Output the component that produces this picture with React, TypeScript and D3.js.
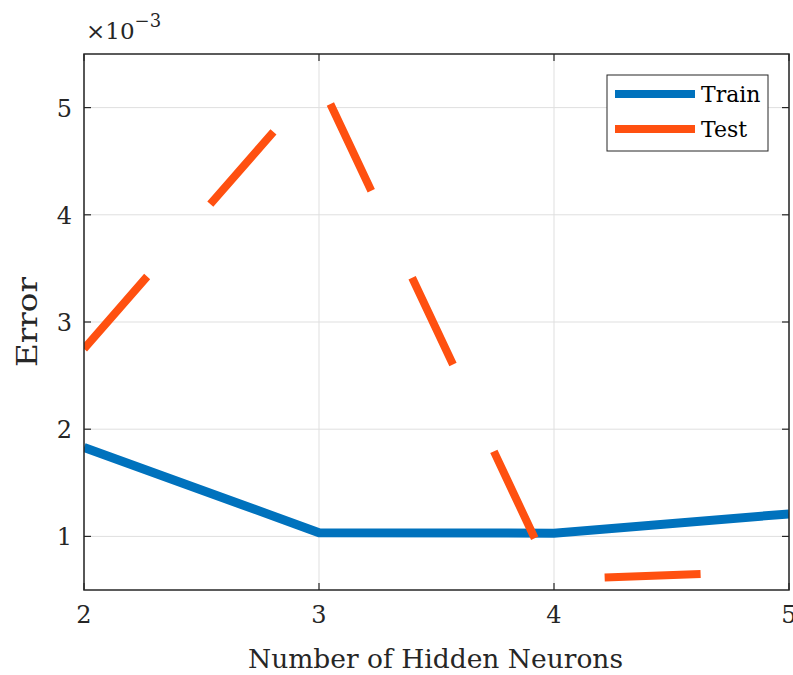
import React from "react";
import * as d3 from "d3";

const neurons = [2, 3, 4, 5];
const trainErr = [1.83, 1.035, 1.03, 1.21];
const testErr = [2.75, 5.26, 0.6, 0.68];
const xTicks = [2, 3, 4, 5];
const yTicks = [1, 2, 3, 4, 5];
const seriesNames = ["Train", "Test"];
const seriesColors = ["#0072BD", "#FF5010"];

const W = 793, H = 675;
const L = 84, R = 789, T = 54, B = 590;
const FONT = "'DejaVu Serif', 'Liberation Serif', serif";

export default function App() {
  const x = d3.scaleLinear().domain([2, 5]).range([L, R]);
  const y = d3.scaleLinear().domain([0.5, 5.5]).range([B, T]);
  const line = d3.line<number>().x((_, i) => x(neurons[i])).y((d) => y(d));
  const tick = 7;
  return (
    <svg width={W} height={H} style={{ position: "absolute", left: 0, top: 0, background: "#fff" }}>
      <defs>
        <clipPath id="clip">
          <rect x={L} y={T} width={R - L} height={B - T} />
        </clipPath>
      </defs>
      {xTicks.map((t) => (
        <line key={"gx" + t} x1={x(t)} x2={x(t)} y1={T} y2={B} stroke="#dfdfdf" strokeWidth={1} />
      ))}
      {yTicks.map((t) => (
        <line key={"gy" + t} x1={L} x2={R} y1={y(t)} y2={y(t)} stroke="#dfdfdf" strokeWidth={1} />
      ))}
      <g clipPath="url(#clip)">
        <path d={line(trainErr) || ""} fill="none" stroke={seriesColors[0]} strokeWidth={9} strokeLinejoin="miter" />
        <path d={line(testErr) || ""} fill="none" stroke={seriesColors[1]} strokeWidth={8} strokeDasharray="96 96" />
      </g>
      <rect x={L} y={T} width={R - L} height={B - T} fill="none" stroke="#262626" strokeWidth={1.5} />
      {xTicks.map((t) => (
        <g key={"tx" + t}>
          <line x1={x(t)} x2={x(t)} y1={B} y2={B - tick} stroke="#262626" strokeWidth={1.2} />
          <line x1={x(t)} x2={x(t)} y1={T} y2={T + tick} stroke="#262626" strokeWidth={1.2} />
          <text x={x(t)} y={623} textAnchor="middle" fontFamily={FONT} fontSize={24} fill="#262626">{t}</text>
        </g>
      ))}
      {yTicks.map((t) => (
        <g key={"ty" + t}>
          <line x1={L} x2={L + tick} y1={y(t)} y2={y(t)} stroke="#262626" strokeWidth={1.2} />
          <line x1={R} x2={R - tick} y1={y(t)} y2={y(t)} stroke="#262626" strokeWidth={1.2} />
          <text x={72} y={y(t) + 9} textAnchor="end" fontFamily={FONT} fontSize={24} fill="#262626">{t}</text>
        </g>
      ))}
      <text x={86} y={39} fontFamily={FONT} fontSize={23} fill="#262626">
        ×10<tspan dy={-12} fontSize={18}>−3</tspan>
      </text>
      <text x={(L + R) / 2 - 1} y={668} textAnchor="middle" fontFamily={FONT} fontSize={26} textLength={375} lengthAdjust="spacingAndGlyphs" fill="#262626">
        Number of Hidden Neurons
      </text>
      <text transform={`translate(37, ${322}) rotate(-90)`} textAnchor="middle" fontFamily={FONT} fontSize={28} textLength={90} lengthAdjust="spacingAndGlyphs" fill="#262626">
        Error
      </text>
      <rect x={607} y={75} width={161} height={76} fill="#fff" stroke="#262626" strokeWidth={1} />
      {seriesNames.map((n, i) => (
        <g key={n}>
          <line x1={615} x2={695} y1={94 + i * 35} y2={94 + i * 35} stroke={seriesColors[i]} strokeWidth={8} />
          <text x={701} y={94 + i * 35 + 8} fontFamily={FONT} fontSize={22} fill="#000">{n}</text>
        </g>
      ))}
    </svg>
  );
}
